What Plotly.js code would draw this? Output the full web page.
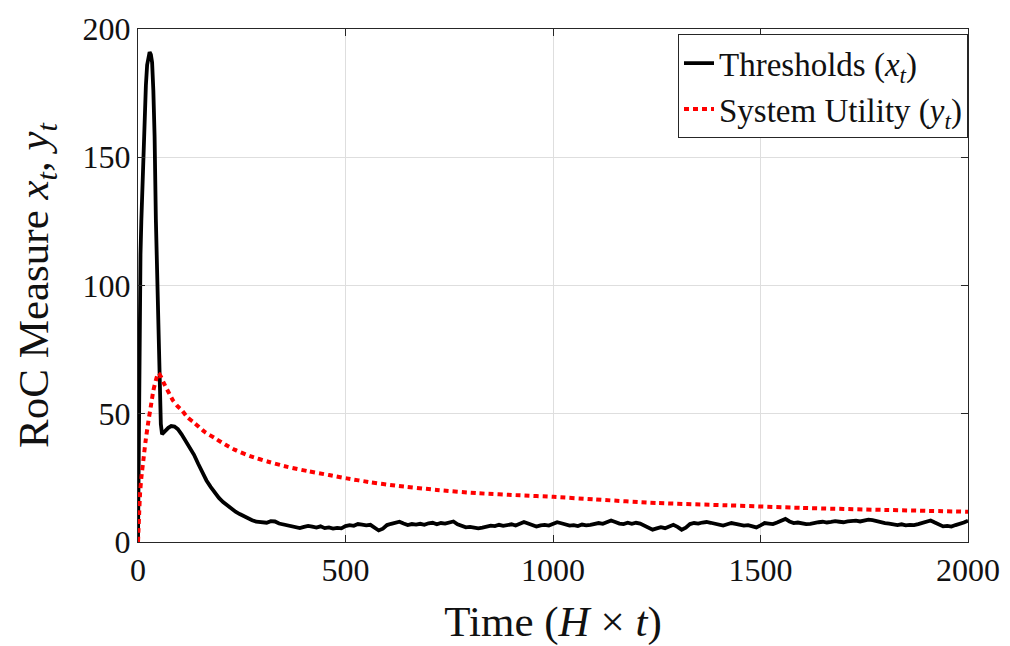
<!DOCTYPE html>
<html>
<head>
<meta charset="utf-8">
<script src="https://cdn.plot.ly/plotly-3.0.1.min.js"></script>
<style>html,body{margin:0;padding:0;background:#fff;}#chart{width:1010px;height:646px;}</style>
</head>
<body>
<div id="chart"></div>
<script>
// Thresholds (x_t): early transient
const thresholdEarlyTime = [0,1,2,3,4,6,8,10,13,16,19,22,25,28,31,34,37,40,43,46,49,52,55,58,62,67,73,80,88,96,105,115,125,135,145,155,165,175,185,195,205,215,225,235,245,255,265,275,285,295,305];
const thresholdEarlyValue = [0,25,55,80,95,112,125,137,152,168,178,186,190,191,190,187,176,158,126,104,86,60,46,42,42.5,43.5,44.5,45.2,45,44,42,39.5,37,34,30.5,27,24,21.5,19.2,17.2,15.6,14.2,13,11.8,10.9,10,9.2,8.5,7.9,7.8,7.6];
// Thresholds tail: sampled every 10 time units from 310 to 2000
const thresholdTailStart = 310;
const thresholdTailStep = 10;
const thresholdTailValue = [
7.5,8.1,8.0,7.2,6.8,6.4,6.0,5.8,5.4,5.9,
6.3,6.0,5.6,6.1,5.4,5.7,5.2,5.5,5.3,6.2,
6.6,6.3,7.0,6.8,6.5,6.7,5.6,4.5,5.2,6.6,
7.1,7.6,7.9,7.2,6.6,7.0,6.8,7.1,6.7,7.3,
7.5,6.9,7.4,7.2,7.6,8.0,6.9,6.2,5.7,5.9,
5.5,5.3,5.6,6.0,6.4,6.2,6.7,6.3,6.5,6.9,
6.4,7.1,7.8,7.2,6.4,6.0,6.5,6.7,6.4,7.0,
7.7,7.3,6.9,6.4,6.6,6.2,6.8,6.5,6.7,7.0,
7.4,7.1,7.6,8.4,7.8,7.2,7.0,7.5,7.1,7.5,
7.2,6.3,5.4,4.8,5.3,5.8,5.4,6.2,6.7,5.9,
4.8,5.6,7.0,7.4,7.2,7.6,7.8,7.5,7.1,6.6,
6.4,6.9,7.4,7.1,6.7,6.4,6.6,6.0,5.7,6.5,
7.4,7.2,7.0,7.6,8.3,9.0,8.0,7.4,7.6,7.2,
7.0,7.1,7.5,7.7,7.9,7.6,7.8,8.1,7.9,7.7,
8.0,8.2,8.3,8.0,8.4,8.7,8.5,8.1,7.6,7.4,
7.2,6.8,6.6,6.9,6.5,6.7,6.6,7.0,7.4,7.9,
8.4,7.6,6.8,6.1,6.3,6.0,6.6,7.0,7.6,8.3];
// System utility (y_t)
const utilityTime = [0,1,2,3,5,8,13,18,25,31,37,43,49,55,62,73,85,95,105,120,137,160,186,210,234,270,314,360,410,460,503,560,620,720,820,920,1001,1100,1250,1420,1600,1800,2000];
const utilityValue = [0,4,8,12,19,25,32,39,47,53,59,63,65.8,64.5,62,58.6,55,53,51.5,48.5,46.3,43,40.4,38,35.9,33.5,31.3,29.3,27.6,26.1,24.8,23.3,22,20.3,19,18.2,17.6,16.6,15.2,14.3,13.3,12.5,11.8];

const xTicks = [0,500,1000,1500,2000];
const yTicks = [0,50,100,150,200];
const nb = '\u00A0';
const seriesNames = ['Thresholds' + nb + '(<i>x</i><sub><i>t</i></sub>)', 'System' + nb + 'Utility' + nb + '(<i>y</i><sub><i>t</i></sub>)'];

const thresholdTime = thresholdEarlyTime.slice();
const thresholdValue = thresholdEarlyValue.slice();
thresholdTailValue.forEach((v, i) => { thresholdTime.push(thresholdTailStart + i * thresholdTailStep); thresholdValue.push(v); });

const serif = 'Liberation Serif, Times New Roman, serif';

const traces = [
  {x: thresholdTime, y: thresholdValue, type: 'scatter', mode: 'lines', name: seriesNames[0],
   line: {color: '#000000', width: 3.8}},
  {x: utilityTime, y: utilityValue, type: 'scatter', mode: 'lines', name: seriesNames[1],
   line: {color: '#ff0000', width: 4, dash: '5px,4px', shape: 'spline', smoothing: 0.6}}
];

const axisCommon = {
  showline: true, mirror: 'ticks', linecolor: '#262626', linewidth: 1,
  ticks: 'inside', ticklen: 7, tickcolor: '#262626', tickwidth: 1,
  showgrid: true, gridcolor: '#dedede', gridwidth: 1, zeroline: false,
  tickfont: {family: serif, size: 32, color: '#111'}
};

const layout = {
  width: 1010, height: 646,
  margin: {l: 138, r: 42, t: 29, b: 104},
  paper_bgcolor: '#fff', plot_bgcolor: '#fff',
  showlegend: true,
  xaxis: Object.assign({}, axisCommon, {
    range: [0, 2000], tickvals: xTicks, ticktext: xTicks.map(String),
    title: {text: 'Time' + nb + '(<i>H</i>' + nb + '×' + nb + '<i>t</i>)', font: {family: serif, size: 43, color: '#111'}, standoff: 18}
  }),
  yaxis: Object.assign({}, axisCommon, {
    range: [0, 200], tickvals: yTicks, ticktext: yTicks.map(String),
    title: {text: 'RoC Measure <i>x</i><sub><i>t</i></sub>,' + nb + '<i>y</i><sub><i>t</i></sub>', font: {family: serif, size: 43, color: '#111'}, standoff: 20}
  }),
  legend: {
    x: 1, y: 0.99, xanchor: 'right', yanchor: 'top',
    bgcolor: '#fff', bordercolor: '#262626', borderwidth: 1,
    font: {family: serif, size: 33, color: '#111'},
    tracegroupgap: 0
  }
};

Plotly.newPlot('chart', traces, layout, {displayModeBar: false, staticPlot: true});
</script>
</body>
</html>
